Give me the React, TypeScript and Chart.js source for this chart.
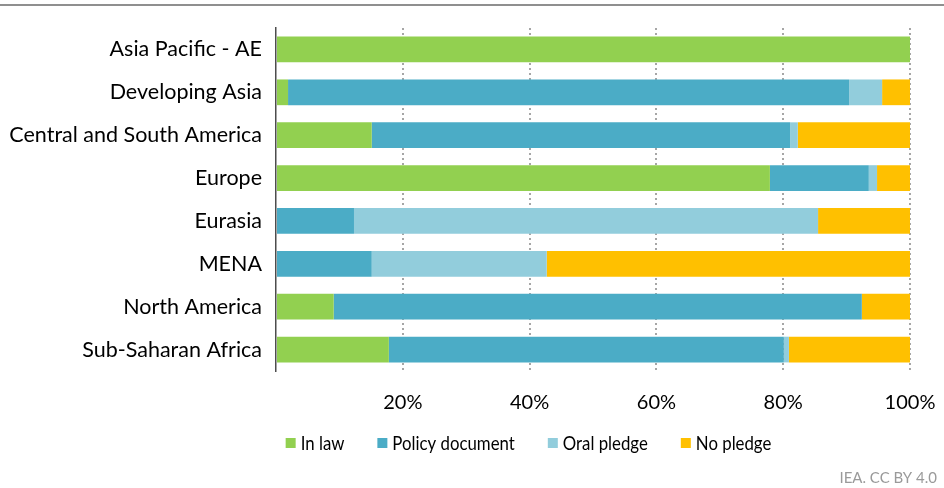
import React, { useEffect, useRef } from "react";
import { Chart, registerables } from "chart.js";

Chart.register(...registerables);

const categories = [
  "Asia Pacific - AE",
  "Developing Asia",
  "Central and South America",
  "Europe",
  "Eurasia",
  "MENA",
  "North America",
  "Sub-Saharan Africa",
];
const inLaw = [100, 1.9, 15.1, 77.9, 0, 0, 9.1, 17.8];
const policyDocument = [0, 88.5, 66.0, 15.6, 12.3, 15.1, 83.3, 62.3];
const oralPledge = [0, 5.2, 1.2, 1.3, 73.2, 27.6, 0, 0.8];
const noPledge = [0, 4.4, 17.7, 5.2, 14.5, 57.3, 7.6, 19.1];
const seriesNames = ["In law", "Policy document", "Oral pledge", "No pledge"];
const seriesColors = ["#92D050", "#4BACC6", "#92CDDC", "#FFC000"];
const xTickValues = [0, 20, 40, 60, 80, 100];
const sourceText = "IEA. CC BY 4.0";

const FONT = "Lato, 'Open Sans', sans-serif";

const decorPlugin = {
  id: "decor",
  afterDraw(chart: any) {
    const ctx = chart.ctx as CanvasRenderingContext2D;
    const W = chart.width;
    ctx.save();
    // top rule
    ctx.strokeStyle = "#8f8f8f";
    ctx.lineWidth = 2;
    ctx.beginPath();
    ctx.moveTo(0, 5);
    ctx.lineTo(W, 5);
    ctx.stroke();

    // legend (slightly condensed text, as in the reference)
    const sx = 0.84;
    ctx.font = `20px ${FONT}`;
    ctx.textBaseline = "middle";
    ctx.textAlign = "left";
    const box = 10;
    const gapText = 5;
    const gapItem = 33;
    const widths = seriesNames.map((n) => ctx.measureText(n).width * sx);
    let total = 0;
    widths.forEach((w, i) => {
      total += box + gapText + w + (i < widths.length - 1 ? gapItem : 0);
    });
    const centerX = 528.5;
    let x = centerX - total / 2;
    const y = 443;
    chart.data.datasets.forEach((ds: any, i: number) => {
      ctx.fillStyle = ds.backgroundColor;
      ctx.fillRect(x, y - box / 2, box, box);
      ctx.fillStyle = "#000";
      ctx.save();
      ctx.translate(x + box + gapText, y + 1);
      ctx.scale(sx, 1);
      ctx.fillText(ds.label, 0, 0);
      ctx.restore();
      x += box + gapText + widths[i] + gapItem;
    });

    // source
    ctx.font = `15px ${FONT}`;
    ctx.fillStyle = "#9a9a9a";
    ctx.textAlign = "right";
    ctx.textBaseline = "middle";
    ctx.fillText(sourceText, 937, 478);
    ctx.restore();
  },
};

export default function App() {
  const ref = useRef<HTMLCanvasElement | null>(null);
  useEffect(() => {
    if (!ref.current) return;
    const values = [inLaw, policyDocument, oralPledge, noPledge];
    const chart = new Chart(ref.current, {
      type: "bar",
      data: {
        labels: categories,
        datasets: seriesNames.map((name, i) => ({
          label: name,
          data: values[i],
          backgroundColor: seriesColors[i],
          borderWidth: 0,
          barPercentage: 0.6,
          categoryPercentage: 1,
        })),
      },
      options: {
        indexAxis: "y",
        responsive: false,
        animation: false,
        devicePixelRatio: 1,
        layout: { padding: { top: 28, right: 34, bottom: 73, left: 0 } },
        plugins: {
          legend: { display: false },
          tooltip: { enabled: false },
        },
        scales: {
          x: {
            stacked: true,
            min: 0,
            max: 100,
            afterBuildTicks: (scale: any) => {
              scale.ticks = xTickValues.map((v) => ({ value: v }));
            },
            afterFit: (scale: any) => {
              scale.height = 44;
              scale.paddingLeft = 0;
              scale.paddingRight = 0;
            },
            ticks: {
              padding: 20,
              color: "#000",
              font: { family: FONT, size: 20 },
              callback: (v: any) => (Number(v) === 0 ? "" : `${v}%`),
              maxRotation: 0,
            },
            grid: {
              drawTicks: false,
              lineWidth: 2,
              color: (c: any) =>
                c.tick && c.tick.value === 0 ? "rgba(0,0,0,0)" : "#a6a6a6",
            },
            border: { display: false, dash: [2, 3] },
          },
          y: {
            stacked: true,
            afterFit: (scale: any) => {
              scale.width = 276;
              scale.paddingTop = 0;
              scale.paddingBottom = 0;
            },
            ticks: {
              padding: 14,
              color: "#000",
              autoSkip: false,
              font: { family: FONT, size: 21.5 },
            },
            grid: { display: false, drawTicks: false },
            border: { display: true, color: "#4d4d4d", width: 1.5 },
          },
        },
      },
      plugins: [decorPlugin],
    } as any);
    return () => chart.destroy();
  }, []);

  return (
    <div style={{ position: "absolute", left: 0, top: 0, width: 944, height: 488, background: "#fff" }}>
      <canvas ref={ref} width={944} height={488} style={{ display: "block", width: 944, height: 488 }} />
    </div>
  );
}
